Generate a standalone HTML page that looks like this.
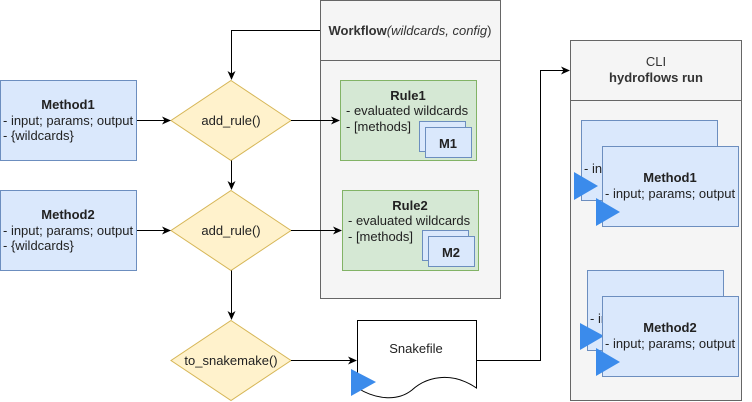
<!DOCTYPE html>
<html><head><meta charset="utf-8"><style>
html,body{margin:0;padding:0;background:#fff;}
svg{display:block;font-family:"Liberation Sans",Arial,sans-serif;}
</style></head><body>
<svg width="752" height="402" viewBox="0 0 752 402" xmlns="http://www.w3.org/2000/svg" font-size="13">
<defs>
<marker id="a" markerWidth="10" markerHeight="10" refX="8" refY="5" orient="auto" markerUnits="userSpaceOnUse">
<path d="M0,1 L9,5 L0,9 L2.5,5 Z" fill="#000"/>
</marker>
</defs>
<rect x="320.5" y="0.5" width="180" height="298" fill="#f5f5f5" stroke="#666"/>
<line x1="320.5" y1="60.5" x2="500.5" y2="60.5" stroke="#666"/>
<text x="410" y="35" text-anchor="middle" fill="#333"><tspan font-weight="bold">Workflow</tspan><tspan font-style="italic">(wildcards, config</tspan>)</text>
<rect x="340.5" y="80.5" width="136" height="80" fill="#d5e8d4" stroke="#82b366"/>
<text x="408" y="100" text-anchor="middle" font-weight="bold" fill="#222">Rule1</text>
<text x="346" y="115" fill="#222">- evaluated wildcards</text>
<text x="346" y="131" fill="#222">- [methods]</text>
<rect x="419.5" y="121.5" width="46" height="30" fill="#dae8fc" stroke="#6c8ebf"/>
<rect x="425.5" y="127.5" width="46" height="30" fill="#dae8fc" stroke="#6c8ebf"/>
<text x="448" y="148" text-anchor="middle" font-weight="bold" fill="#222">M1</text>
<rect x="342.5" y="190.5" width="136" height="80" fill="#d5e8d4" stroke="#82b366"/>
<text x="410" y="210" text-anchor="middle" font-weight="bold" fill="#222">Rule2</text>
<text x="348" y="225" fill="#222">- evaluated wildcards</text>
<text x="348" y="241" fill="#222">- [methods]</text>
<rect x="422.5" y="230.5" width="46" height="30" fill="#dae8fc" stroke="#6c8ebf"/>
<rect x="428.5" y="236.5" width="46" height="30" fill="#dae8fc" stroke="#6c8ebf"/>
<text x="451" y="257" text-anchor="middle" font-weight="bold" fill="#222">M2</text>
<rect x="0.5" y="80.5" width="136" height="80" fill="#dae8fc" stroke="#6c8ebf"/>
<text x="68" y="109" text-anchor="middle" font-weight="bold" fill="#222">Method1</text>
<text x="3" y="125" fill="#222">- input; params; output</text>
<text x="3" y="140" fill="#222">- {wildcards}</text>
<rect x="0.5" y="190.5" width="136" height="80" fill="#dae8fc" stroke="#6c8ebf"/>
<text x="68" y="219" text-anchor="middle" font-weight="bold" fill="#222">Method2</text>
<text x="3" y="235" fill="#222">- input; params; output</text>
<text x="3" y="250" fill="#222">- {wildcards}</text>
<polygon points="231,80.5 291,120.5 231,160.5 171,120.5" fill="#fff2cc" stroke="#d6b656"/>
<text x="231" y="125" text-anchor="middle" fill="#222">add_rule()</text>
<polygon points="231,190.5 291,230.5 231,270.5 171,230.5" fill="#fff2cc" stroke="#d6b656"/>
<text x="231" y="235" text-anchor="middle" fill="#222">add_rule()</text>
<polygon points="231,320.5 291,360.5 231,400.5 171,360.5" fill="#fff2cc" stroke="#d6b656"/>
<text x="231" y="365" text-anchor="middle" fill="#222">to_snakemake()</text>
<path d="M357.5,320.5 L476.5,320.5 L476.5,388 C450,370 425,378 412,390 C397,402 375,399 357.5,388 Z" fill="#fff" stroke="#000"/>
<text x="416" y="353" text-anchor="middle" fill="#222">Snakefile</text>
<polygon points="351,369 376,382 351,396" fill="#3b8beb"/>
<rect x="570.5" y="40.5" width="171" height="360" fill="#f5f5f5" stroke="#666"/>
<line x1="570.5" y1="100.5" x2="741.5" y2="100.5" stroke="#666"/>
<text x="656" y="66" text-anchor="middle" fill="#333">CLI</text>
<text x="656" y="82" text-anchor="middle" font-weight="bold" fill="#333">hydroflows run</text>
<rect x="581.5" y="120.5" width="136" height="80" fill="#dae8fc" stroke="#6c8ebf"/>
<text x="584" y="173" fill="#222">- input</text>
<polygon points="574,172 598,186 574,200" fill="#3b8beb"/>
<rect x="602.5" y="146.5" width="136" height="80" fill="#dae8fc" stroke="#6c8ebf"/>
<text x="670" y="182" text-anchor="middle" font-weight="bold" fill="#222">Method1</text>
<text x="605" y="198" fill="#222">- input; params; output</text>
<polygon points="596,198 620,212 596,226" fill="#3b8beb"/>
<rect x="587.5" y="270.5" width="136" height="80" fill="#dae8fc" stroke="#6c8ebf"/>
<text x="590" y="323" fill="#222">- input</text>
<polygon points="580,323 604,336 580,350" fill="#3b8beb"/>
<rect x="602.5" y="296.5" width="136" height="80" fill="#dae8fc" stroke="#6c8ebf"/>
<text x="670" y="332" text-anchor="middle" font-weight="bold" fill="#222">Method2</text>
<text x="605" y="348" fill="#222">- input; params; output</text>
<polygon points="596,348 620,362 596,376" fill="#3b8beb"/>
<g stroke="#000" fill="none" stroke-width="1">
<path d="M320,30.5 L231.5,30.5 L231.5,79" marker-end="url(#a)"/>
<path d="M137,120.5 L170,120.5" marker-end="url(#a)"/>
<path d="M291,120.5 L339,120.5" marker-end="url(#a)"/>
<path d="M231.5,160.5 L231.5,189" marker-end="url(#a)"/>
<path d="M137,230.5 L170,230.5" marker-end="url(#a)"/>
<path d="M291,230.5 L341,230.5" marker-end="url(#a)"/>
<path d="M231.5,270.5 L231.5,319" marker-end="url(#a)"/>
<path d="M291,360.5 L356,360.5" marker-end="url(#a)"/>
<path d="M476.5,360.5 L540.5,360.5 L540.5,70.5 L569,70.5" marker-end="url(#a)"/>
</g>
</svg>
</body></html>
